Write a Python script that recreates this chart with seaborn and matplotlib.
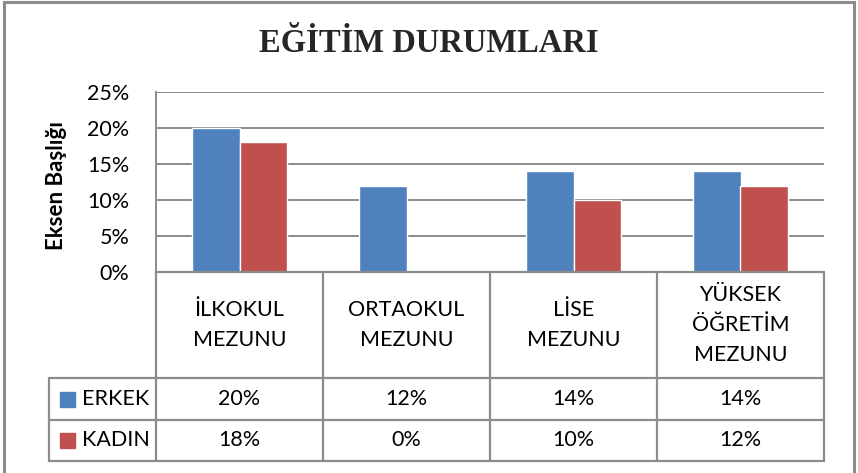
import pandas as pd
import seaborn as sns
import matplotlib.pyplot as plt
from matplotlib.lines import Line2D
from matplotlib.patches import Rectangle
from matplotlib.transforms import blended_transform_factory

# chart data
categories = ['İLKOKUL\nMEZUNU', 'ORTAOKUL\nMEZUNU', 'LİSE\nMEZUNU', 'YÜKSEK\nÖĞRETİM\nMEZUNU']
series_names = ['ERKEK', 'KADIN']
erkek = [20, 12, 14, 14]
kadin = [18, 0, 10, 12]
colors = ['#4F81BD', '#C0504D']
yticks = [0, 5, 10, 15, 20, 25]

W, H = 858, 473
GRID = '#8c8c8c'


def build_frame() -> pd.DataFrame:
    rows = []
    for name, values in zip(series_names, [erkek, kadin]):
        for cat, v in zip(categories, values):
            rows.append({'kategori': cat, 'cinsiyet': name, 'oran': v})
    return pd.DataFrame(rows)


df = build_frame()

sns.set_theme(style='white')
plt.rcParams['font.family'] = ['Lato', 'DejaVu Sans']

fig = plt.figure(figsize=(W / 100, H / 100), dpi=100)
# plot area in pixels: x 156..824, y 92..272
ax = fig.add_axes([156 / W, 1 - 272 / H, 668 / W, 180 / H])

sns.barplot(data=df, x='kategori', y='oran', hue='cinsiyet', palette=colors,
            width=0.571, saturation=1, ax=ax, legend=False, order=categories)

ax.set_xlim(-0.5, len(categories) - 0.5)
ax.set_ylim(0, 25)
ax.set_yticks(yticks)
ax.set_yticklabels([f'{t}%' for t in yticks], fontsize=15.5, color='black')
ax.set_xticks([])
ax.set_xlabel('')
ax.tick_params(axis='y', length=0, pad=19)
ax.grid(axis='y', color=GRID, linewidth=1.4)
ax.set_axisbelow(True)
for side in ['top', 'right', 'bottom']:
    ax.spines[side].set_visible(False)
ax.spines['left'].set_color(GRID)
ax.spines['left'].set_linewidth(1.4)

ax.set_ylabel('Eksen Başlığı', fontsize=16, fontweight='bold', color='black', va='center')
ax.yaxis.set_label_coords((56 - 156) / 668, (272 - 186) / 180)

fig.suptitle('EĞİTİM DURUMLARI', x=0.5, y=1 - 44 / H, va='center',
             fontsize=23.5, fontweight='bold', family=['Liberation Serif', 'DejaVu Serif'])

# data table under the plot: x in category units, y in axes fraction
tr = blended_transform_factory(ax.transData, ax.transAxes)
px = 1 / 180
y_hdr = -(378 - 272) * px
y_r1 = -(419.5 - 272) * px
y_r2 = -(461 - 272) * px
x_left = -0.5 - (156 - 49) / 167
x_right = len(categories) - 0.5


def hline(x0, x1, y):
    ax.add_line(Line2D([x0, x1], [y, y], transform=tr, color=GRID, lw=1.6, clip_on=False))


def vline(x, y0, y1):
    ax.add_line(Line2D([x, x], [y0, y1], transform=tr, color=GRID, lw=1.6, clip_on=False))


hline(-0.5, x_right, 0)
hline(x_left, x_right, y_hdr)
hline(x_left, x_right, y_r1)
hline(x_left, x_right, y_r2)
for i in range(len(categories) + 1):
    vline(i - 0.5, 0, y_r2)
vline(x_left, y_hdr, y_r2)

for i, cat in enumerate(categories):
    ax.text(i, y_hdr / 2, cat, transform=tr, ha='center', va='center',
            fontsize=15.5, linespacing=1.62, color='black')

row_mid = [(y_hdr + y_r1) / 2, (y_r1 + y_r2) / 2]
sq_x = -0.5 - (156 - 66.5) / 167
lab_x = -0.5 - (156 - 82) / 167
for name, values, col, ym in zip(series_names, [erkek, kadin], colors, row_mid):
    ax.add_line(Line2D([sq_x], [ym], transform=tr, marker='s', markersize=10.8,
                       color=col, linestyle='none', clip_on=False))
    ax.text(lab_x, ym, name, transform=tr, ha='left', va='center',
            fontsize=15.5, color='black')
    for i, v in enumerate(values):
        ax.text(i, ym, f'{v}%', transform=tr, ha='center', va='center',
                fontsize=15.5, color='black')

# outer chart border
fig.add_artist(Rectangle((4 / W, -0.05), (854 - 4) / W, 1.05 - 2 / H,
                         transform=fig.transFigure, fill=False,
                         edgecolor=GRID, linewidth=2.2, clip_on=False))

fig.savefig('out.png', dpi=100, facecolor='white')
plt.close(fig)
